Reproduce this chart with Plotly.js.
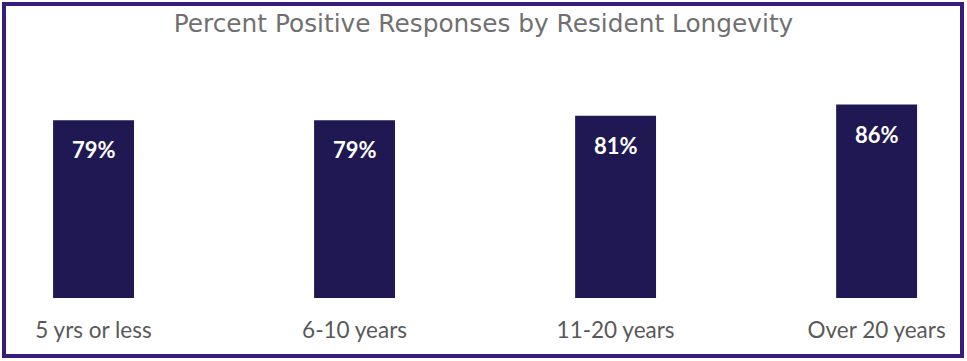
<!DOCTYPE html>
<html>
<head>
<meta charset="utf-8">
<script src="https://cdn.plot.ly/plotly-3.0.1.min.js"></script>
<style>
html,body{margin:0;padding:0;background:#fff;}
#chart{width:967px;height:361px;}
</style>
</head>
<body>
<div id="chart"></div>
<script>
var categories = ["5 yrs or less", "6-10 years", "11-20 years", "Over 20 years"];
var values = [79, 79, 81, 86];
var valueLabels = ["79%", "79%", "81%", "86%"];

var trace = {
  type: "bar",
  x: categories,
  y: values,
  width: 0.31,
  marker: {color: "#1f1852"},
  hoverinfo: "skip"
};

var annotations = categories.map(function(c, i){
  return {
    x: c, y: values[i], xref: "x", yref: "y",
    text: "<b>" + valueLabels[i] + "</b>",
    showarrow: false, yanchor: "top", yshift: -14,
    font: {family: "Lato, 'Open Sans', sans-serif", size: 22, color: "#ffffff"}
  };
});

var layout = {
  width: 967, height: 361,
  margin: {l: 10, r: 10, t: 73, b: 63},
  paper_bgcolor: "#ffffff", plot_bgcolor: "#ffffff",
  showlegend: false,
  title: {
    text: "Percent Positive Responses by Resident Longevity",
    font: {family: "'DejaVu Sans', sans-serif", size: 24.8, color: "#707070"},
    x: 0.5, xanchor: "center", y: 1 - 23/361, yanchor: "middle"
  },
  xaxis: {
    type: "category",
    range: [-0.32, 3.308],
    showgrid: false, zeroline: false, showline: false,
    ticks: "", ticklabelstandoff: 16,
    tickfont: {family: "Lato, 'Open Sans', sans-serif", size: 22.5, color: "#595959"},
    fixedrange: true
  },
  yaxis: {
    range: [0, 100],
    visible: false, fixedrange: true
  },
  annotations: annotations,
  shapes: [{
    type: "rect", xref: "paper", yref: "paper",
    x0: (4 - 10) / 947, x1: (962 - 10) / 947,
    y0: (298 - 356) / 225, y1: (298 - 4) / 225,
    line: {color: "#3a1c7a", width: 4},
    fillcolor: "rgba(0,0,0,0)", layer: "above"
  }],
  bargap: 0.69
};

Plotly.newPlot("chart", [trace], layout, {displayModeBar: false, staticPlot: true});
</script>
</body>
</html>
